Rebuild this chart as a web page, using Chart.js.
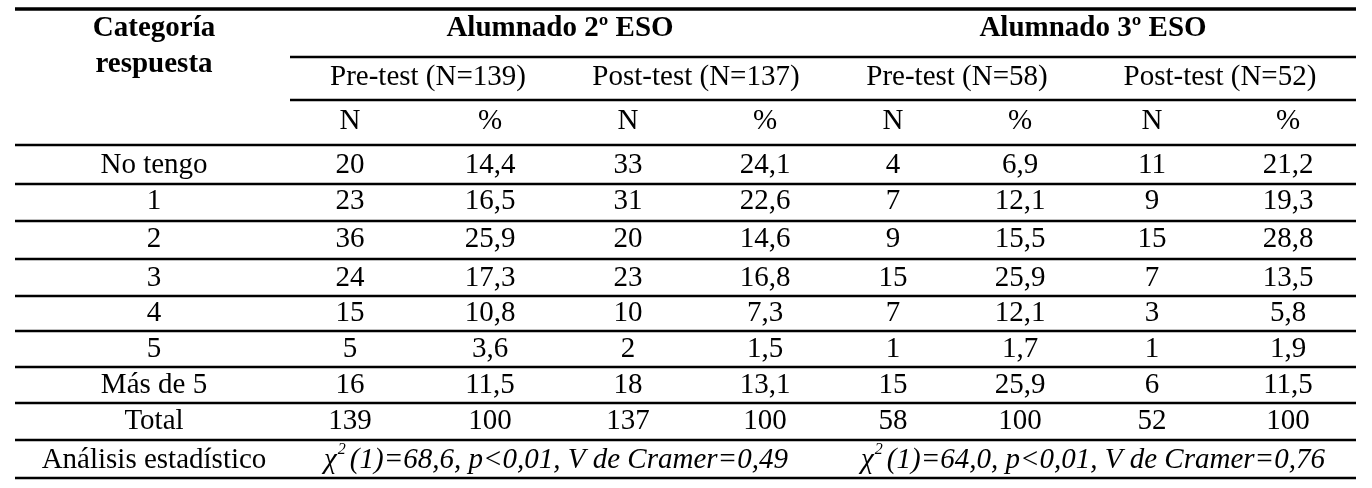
<!DOCTYPE html>
<html><head><meta charset="utf-8">
<script src="https://cdn.jsdelivr.net/npm/chart.js@4/dist/chart.umd.min.js"></script>
<style>html,body{margin:0;padding:0;background:#fff}</style>
</head><body>
<canvas id="c" width="1372" height="488"></canvas>
<script>
const categories = ["No tengo","1","2","3","4","5","Más de 5","Total"];
const pre2N   = [20,23,36,24,15,5,16,139];
const pre2P   = ["14,4","16,5","25,9","17,3","10,8","3,6","11,5","100"];
const post2N  = [33,31,20,23,10,2,18,137];
const post2P  = ["24,1","22,6","14,6","16,8","7,3","1,5","13,1","100"];
const pre3N   = [4,7,9,15,7,1,15,58];
const pre3P   = ["6,9","12,1","15,5","25,9","12,1","1,7","25,9","100"];
const post3N  = [11,9,15,7,3,1,6,52];
const post3P  = ["21,2","19,3","28,8","13,5","5,8","1,9","11,5","100"];
const groups = ["Alumnado 2º ESO","Alumnado 3º ESO"];
const tests = ["Pre-test (N=139)","Post-test (N=137)","Pre-test (N=58)","Post-test (N=52)"];
const stats = ["(1)=68,6, p<0,01, V de Cramer=0,49","(1)=64,0, p<0,01, V de Cramer=0,76"];

const colX = [154,350,490,628,765,893,1020,1152,1288];
const rowY = [165,201,239,278,313,349,385,421,460];
const lineY = [145,184,221,259,296,331,367,403,440,478];

const tablePlugin = {
  id:'table',
  afterDraw(chart){
    const ctx = chart.ctx, xs = chart.scales.x, ys = chart.scales.y;
    const X = v=>xs.getPixelForValue(v), Y = v=>ys.getPixelForValue(v);
    ctx.save();
    ctx.fillStyle='#000'; ctx.strokeStyle='#000';
    ctx.textAlign='center'; ctx.textBaseline='middle';
    const hl=(y,x0,x1,w)=>{ctx.lineWidth=w;ctx.beginPath();ctx.moveTo(X(x0),Y(y));ctx.lineTo(X(x1),Y(y));ctx.stroke();};
    hl(9,15,1356,3.5);
    hl(57,290,1356,2.5);
    hl(100,290,1356,2.5);
    lineY.forEach(y=>hl(y,15,1356,2.5));
    ctx.font='bold 29px "Liberation Serif"';
    ctx.fillText("Categoría",X(154),Y(29));
    ctx.fillText("respuesta",X(154),Y(65));
    ctx.fillText(groups[0],X(560),Y(29));
    ctx.fillText(groups[1],X(1093),Y(29));
    ctx.font='29px "Liberation Serif"';
    [428,696,957,1220].forEach((x,i)=>ctx.fillText(tests[i],X(x),Y(77)));
    for(let i=1;i<9;i++) ctx.fillText(i%2?"N":"%",X(colX[i]),Y(121));
    const cols=[pre2N,pre2P,post2N,post2P,pre3N,pre3P,post3N,post3P];
    categories.forEach((c,r)=>{
      ctx.fillText(c,X(colX[0]),Y(rowY[r]));
      cols.forEach((arr,j)=>ctx.fillText(String(arr[r]),X(colX[j+1]),Y(rowY[r])));
    });
    ctx.fillText("Análisis estadístico",X(154),Y(rowY[8]));
    const big='italic 29px "Liberation Serif"', sm='italic 16px "Liberation Serif"';
    [556,1093].forEach((cx,i)=>{
      const main=stats[i];
      ctx.font=big; const w1=ctx.measureText("χ").width, w3=ctx.measureText(main).width;
      ctx.font=sm; const w2=ctx.measureText("2").width+5;
      let x0=X(cx)-(w1+w2+w3)/2;
      ctx.textAlign='left';
      ctx.font=big; ctx.fillText("χ",x0,Y(rowY[8]));
      ctx.font=sm; ctx.fillText("2",x0+w1+1,Y(rowY[8])-10);
      ctx.font=big; ctx.fillText(main,x0+w1+w2,Y(rowY[8]));
      ctx.textAlign='center';
    });
    ctx.restore();
  }
};

new Chart(document.getElementById('c'),{
  type:'scatter',
  data:{datasets:[{data:[]}]},
  options:{
    responsive:false, animation:false,
    layout:{padding:0},
    plugins:{legend:{display:false},tooltip:{enabled:false}},
    scales:{
      x:{type:'linear',min:0,max:1372,display:false},
      y:{type:'linear',min:0,max:488,reverse:true,display:false}
    }
  },
  plugins:[tablePlugin]
});
</script>
</body></html>
